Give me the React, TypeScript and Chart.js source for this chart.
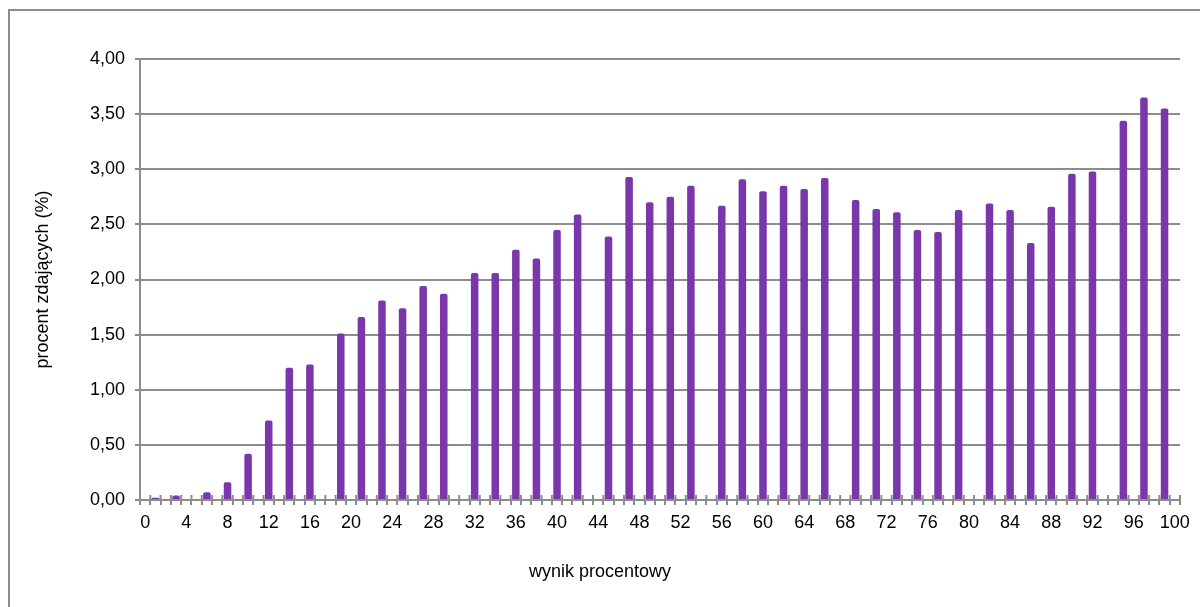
import { useEffect, useRef } from 'react';
import { Chart, registerables } from 'chart.js';

Chart.register(...registerables);

// Category axis: percentage score 0..100
const CATEGORIES: string[] = Array.from({ length: 101 }, (_, i) => String(i));
// Scores (percent) that have a bar, and the percentage of students for each
const SCORES = [1, 3, 6, 8, 10, 12, 14, 16, 19, 21, 23, 25, 27, 29, 32, 34, 36, 38, 40, 42, 45, 47, 49, 51, 53, 56, 58, 60, 62, 64, 66, 69, 71, 73, 75, 77, 79, 82, 84, 86, 88, 90, 92, 95, 97, 99];
const PERCENTS = [0.02, 0.04, 0.07, 0.16, 0.42, 0.72, 1.2, 1.23, 1.51, 1.66, 1.81, 1.74, 1.94, 1.87, 2.06, 2.06, 2.27, 2.19, 2.45, 2.59, 2.39, 2.93, 2.7, 2.75, 2.85, 2.67, 2.91, 2.8, 2.85, 2.82, 2.92, 2.72, 2.64, 2.61, 2.45, 2.43, 2.63, 2.69, 2.63, 2.33, 2.66, 2.96, 2.98, 3.44, 3.65, 3.55];
const X_LABEL_STEP = 4;
const Y_MIN = 0;
const Y_MAX = 4;
const Y_STEP = 0.5;

const X_TITLE = 'wynik procentowy';
const Y_TITLE = 'procent zdających (%)';

const GRAY = '#8c8c8c';
const PURPLE = '#7a37ab';
const FONT = 'Liberation Sans, Arial, sans-serif';
const FS = 18;

const crossTicks = {
  id: 'crossTicks',
  afterDraw(chart: any) {
    const xs = chart.scales.x;
    const ctx = chart.ctx;
    const bottom = chart.chartArea.bottom;
    ctx.save();
    ctx.strokeStyle = GRAY;
    ctx.lineWidth = 2;
    for (let i = 0; i <= CATEGORIES.length; i++) {
      const px = xs.getPixelForValue(i - 0.5);
      ctx.beginPath();
      ctx.moveTo(px, bottom - 5);
      ctx.lineTo(px, bottom);
      ctx.stroke();
    }
    ctx.restore();
  },
};

function zeroPad(s: any) {
  s.paddingTop = 0;
  s.paddingBottom = 0;
  s.paddingLeft = 0;
  s.paddingRight = 0;
}

export default function App() {
  const ref = useRef<HTMLCanvasElement>(null);

  useEffect(() => {
    if (!ref.current) return;
    const values: (number | null)[] = CATEGORIES.map(() => null);
    SCORES.forEach((s, i) => {
      values[s] = PERCENTS[i];
    });

    Chart.defaults.font.family = FONT;
    const chart = new Chart(ref.current, {
      type: 'bar',
      data: {
        labels: CATEGORIES,
        datasets: [
          {
            data: values,
            backgroundColor: PURPLE,
            borderWidth: 0,
            borderRadius: 2,
            borderSkipped: 'bottom',
            barPercentage: 0.73,
            categoryPercentage: 1,
          },
        ],
      },
      options: {
        responsive: false,
        animation: false,
        devicePixelRatio: 1,
        layout: { padding: { left: 20, right: 20, top: 59, bottom: 0 } },
        plugins: {
          legend: { display: false },
          tooltip: { enabled: false },
          title: {
            display: true,
            position: 'bottom',
            text: X_TITLE,
            color: '#000',
            font: { size: FS, weight: 'normal', family: FONT },
            padding: { top: 0, bottom: 24 },
          },
        },
        scales: {
          x: {
            offset: true,
            ticks: {
              autoSkip: false,
              maxRotation: 0,
              minRotation: 0,
              color: '#000',
              font: { size: FS, family: FONT },
              padding: 7,
              callback: (_v: any, i: number) => (i % X_LABEL_STEP === 0 ? CATEGORIES[i] : ''),
            },
            grid: {
              offset: true,
              drawOnChartArea: false,
              drawTicks: true,
              tickLength: 5,
              color: GRAY,
              lineWidth: 2,
            },
            border: { color: GRAY, width: 2 },
            afterFit: (s: any) => {
              s.height = 61.4;
              zeroPad(s);
            },
          },
          y: {
            min: Y_MIN,
            max: Y_MAX,
            ticks: {
              stepSize: Y_STEP,
              color: '#000',
              font: { size: FS, family: FONT },
              padding: 10,
              callback: (v: any) => Number(v).toFixed(2).replace('.', ','),
            },
            grid: { color: GRAY, lineWidth: 2, tickLength: 5, drawTicks: true },
            border: { color: GRAY, width: 2 },
            title: {
              display: true,
              text: Y_TITLE,
              color: '#000',
              font: { size: FS, family: FONT },
              padding: { top: 12, bottom: 0 },
            },
            afterFit: (s: any) => {
              s.width = 120;
              zeroPad(s);
            },
          },
        },
      },
      plugins: [crossTicks],
    } as any);
    return () => chart.destroy();
  }, []);

  return (
    <div style={{ position: 'fixed', left: 0, top: 0, width: 1200, height: 607, overflow: 'hidden', background: '#fff' }}>
      <div style={{ position: 'absolute', left: 8, top: 9, width: 1400, height: 800, border: `2px solid ${GRAY}` }} />
      <canvas ref={ref} width={1200} height={607} style={{ position: 'absolute', left: 0, top: 0, width: 1200, height: 607 }} />
    </div>
  );
}
